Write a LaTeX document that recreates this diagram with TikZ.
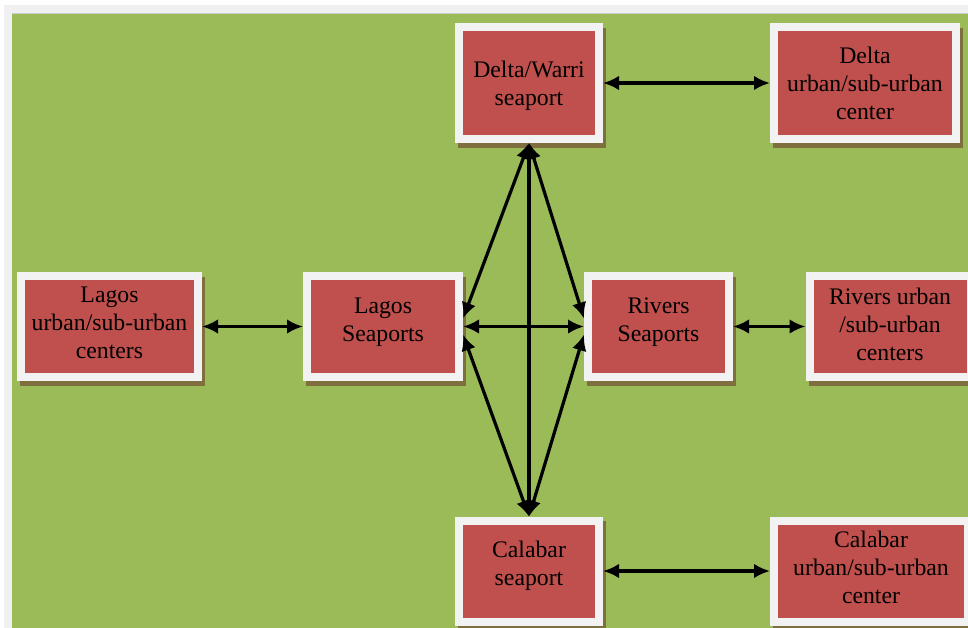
\documentclass[tikz,border=0pt]{standalone}
\usepackage{fontspec}
\setmainfont{Liberation Serif}
\usetikzlibrary{arrows.meta}
\definecolor{boxred}{HTML}{C0504D}
\definecolor{boxwhite}{HTML}{F2F2F2}
\definecolor{boxshadow}{HTML}{7F6F3F}
\definecolor{bggreen}{HTML}{9BBB59}
\definecolor{framegray}{HTML}{F0F0F0}
\begin{document}
\begin{tikzpicture}[x=0.75pt, y=-0.75pt,
    port/.style={draw=boxwhite, line width=6pt, fill=boxred, inner sep=0pt,
        align=center, font=\fontsize{17.8}{21}\selectfont,
        preaction={fill=boxshadow, draw=boxshadow,
            transform canvas={shift={(2.5pt,-3.5pt)}}}},
    link/.style={line width=2.4pt,
        {Latex[length=12pt,width=11pt]}-{Latex[length=12pt,width=11pt]}}]
    \useasboundingbox (0,0) rectangle (968,628);
    \clip (0,0) rectangle (968,628);
    % Background and frame
    \fill[white] (0,0) rectangle (968,628);
    \fill[framegray] (4,5) rectangle (968,628);
    \fill[bggreen] (12,13) rectangle (968,628);
    \draw[framegray!85!black, line width=0.75pt] (12,13) -- (968,13);
    % Seaports
    \node[port, minimum width=105pt, minimum height=84pt, text depth=0pt]
        (delta) at (529,83) {Delta/Warri\\seaport};
    \node[port, minimum width=114pt, minimum height=75.75pt, text depth=10pt]
        (lagos) at (383,326.5) {Lagos\\Seaports};
    \node[port, minimum width=105.75pt, minimum height=75.75pt, text depth=10pt]
        (rivers) at (658.5,326.5) {Rivers\\Seaports};
    \node[port, minimum width=105pt, minimum height=75.75pt, text depth=11.4pt]
        (calabar) at (529,571) {Calabar\\seaport};
    % Urban / sub-urban centers
    \node[port, minimum width=136.5pt, minimum height=84pt]
        (deltaurb) at (865,83) {Delta\\urban/sub-urban\\center};
    \node[port, minimum width=132.75pt, minimum height=75.75pt, text depth=5.2pt]
        (lagosurb) at (109.5,326.5) {Lagos\\urban/sub-urban\\centers};
    \node[port, minimum width=120.75pt, minimum height=75.75pt, text depth=4pt]
        (riversurb) at (890,326.5) {Rivers urban\\/sub-urban\\centers};
    \node[port, minimum width=145.5pt, minimum height=75.75pt, text depth=6pt]
        (calabarurb) at (871,571) {Calabar\\urban/sub-urban\\center};
    % Links
    \draw[link] (delta) -- (deltaurb);
    \draw[link] (lagosurb) -- (lagos);
    \draw[link] (lagos) -- (rivers);
    \draw[link] (rivers) -- (riversurb);
    \draw[link] (calabar) -- (calabarurb);
    \draw[link] (delta) -- (calabar);
    \draw[link] (delta.south) -- ([yshift=6pt]lagos.east);
    \draw[link] (delta.south) -- ([yshift=6pt]rivers.west);
    \draw[link] (calabar.north) -- ([yshift=-6pt]lagos.east);
    \draw[link] (calabar.north) -- ([yshift=-6pt]rivers.west);
\end{tikzpicture}
\end{document}
